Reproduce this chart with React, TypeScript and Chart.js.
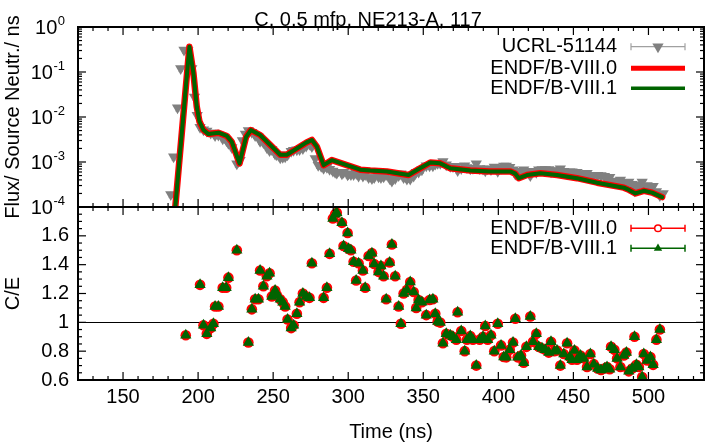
import React, { useEffect, useRef } from "react";
import { Chart, registerables } from "chart.js";

Chart.register(...registerables);

// ---------- texts ----------
const chartTitle = "C, 0.5 mfp, NE213-A, 117";
const xAxisTitle = "Time (ns)";
const topAxisTitle = "Flux/ Source Neutr./ ns";
const bottomAxisTitle = "C/E";
const expName = "UCRL-51144";
const lib80Name = "ENDF/B-VIII.0";
const lib81Name = "ENDF/B-VIII.1";

// ---------- ticks ----------
const timeTickLabels = [150, 200, 250, 300, 350, 400, 450, 500];
const fluxTickExponents = [0, -1, -2, -3, -4];
const ratioTickLabels = [0.6, 0.8, 1, 1.2, 1.4, 1.6];

// ---------- calculated flux (lines) ----------
const calcTime = [
  184.8, 194.2, 196.9, 199.1, 200.9, 203.6, 206.9, 213.6, 219.1, 222.4,
  227.6, 232.0, 235.1, 241.3, 248.0, 254.7, 259.1, 265.8, 272.0, 275.8,
  279.1, 283.6, 289.1, 299.1, 308.0, 314.7, 325.8, 340.2, 345.8, 354.7,
  361.3, 368.0, 381.3, 394.7, 408.0, 411.3, 413.6, 419.1, 428.0, 439.1,
  452.4, 465.8, 483.6, 487.0, 491.3, 496.9, 502.4, 509.1,
];
const calcB80 = [
  1.0e-4, 0.363, 0.0933, 0.0170, 0.00794, 0.00513, 0.00417, 0.00447, 0.00380, 0.00282,
  0.000933, 0.00363, 0.00513, 0.00398, 0.00240, 0.00145, 0.00145, 0.00200, 0.00269, 0.00309,
  0.00219, 0.000851, 0.00110, 0.000851, 0.000676, 0.000646, 0.000617, 0.000513, 0.000661, 0.000977,
  0.000933, 0.000724, 0.000646, 0.000617, 0.000617, 0.000550, 0.000437, 0.000513, 0.000562, 0.000513,
  0.000437, 0.000347, 0.000269, 0.000240, 0.000200, 0.000229, 0.000209, 0.000166,
];
const calcB81 = [
  1.0e-4, 0.363, 0.0933, 0.0170, 0.00794, 0.00513, 0.00417, 0.00447, 0.00380, 0.00282,
  0.000933, 0.00363, 0.00513, 0.00398, 0.00240, 0.00145, 0.00145, 0.00200, 0.00269, 0.00309,
  0.00219, 0.000851, 0.00110, 0.000851, 0.000676, 0.000646, 0.000617, 0.000513, 0.000661, 0.000977,
  0.000933, 0.000724, 0.000646, 0.000617, 0.000617, 0.000550, 0.000437, 0.000513, 0.000562, 0.000513,
  0.000437, 0.000347, 0.000269, 0.000240, 0.000200, 0.000229, 0.000209, 0.000166,
];

// ---------- experimental flux (UCRL-51144) ----------
const expTime = [
  181.8, 183.7, 186.3, 188.4, 190.6, 193.2, 195.8, 197.6, 199.4,
  201.3, 203.6, 205.8, 208.4, 210.2, 211.3, 213.5, 216.4, 218.7, 220.2, 222.5, 225.8,
  228.0, 229.5, 231.5,
  233.5, 235.8, 238.0, 240.2, 241.3, 243.5, 245.8, 247.6, 249.1, 251.3,
  252.4, 254.7, 256.4, 258.0, 259.6, 262.0, 263.6, 265.8, 267.6, 269.8,
  272.0, 274.2, 275.8, 278.0, 280.0, 282.0,
  283.6, 285.8, 287.6, 289.8, 291.3, 292.4, 295.8, 296.9, 299.6, 300.2,
  301.8, 303.6, 305.3, 306.9, 309.8, 311.3, 313.6, 315.8, 317.3, 320.2,
  321.8, 323.6, 325.3, 327.6, 329.1, 331.3, 333.6, 335.1, 336.9, 339.1,
  341.3, 343.6, 345.3, 346.9, 349.1, 352.0, 354.2, 356.4, 358.0, 359.6,
  361.3, 363.1, 365.3, 368.0, 369.8, 372.0, 372.9, 375.3, 377.6, 379.1,
  381.3, 383.1, 385.3, 387.6, 389.8, 391.3, 392.9, 395.1, 397.3, 399.6,
  401.8, 403.6, 405.3, 407.6, 409.8, 411.3, 412.9, 415.1, 416.9, 418.7,
  421.3, 423.1, 425.3, 426.9, 429.1, 431.3, 433.6, 435.1, 437.3, 439.1,
  441.3, 443.6, 445.8, 447.6, 449.1, 450.7, 452.4, 454.7, 456.9, 459.1,
  461.3, 463.6, 466.2, 468.4, 470.7, 472.4, 474.2, 475.1, 477.3, 479.1,
  481.3, 483.6, 485.3, 486.9, 489.1, 490.7, 492.0, 493.6, 495.8, 496.9,
  499.1, 501.3, 503.1, 505.3, 507.6, 509.8,
];
const expFlux = [
  1.9e-4, 1.3e-3, 0.016, 0.12, 0.31, 0.30, 0.12, 0.028, 0.011,
  0.0059, 0.0052, 0.0049, 0.0044, 0.0044, 0.0039, 0.0040, 0.0033, 0.0031, 0.0026, 0.0021, 0.00091,
  0.0011, 0.0030, 0.0042,
  0.0050, 0.0046, 0.0039, 0.0036, 0.0029, 0.0027, 0.0021, 0.0018, 0.0019, 0.0015,
  0.00145, 0.00125, 0.00127, 0.0013, 0.00145, 0.00173, 0.00183, 0.00188, 0.0019, 0.0020,
  0.00228, 0.0025, 0.0022, 0.0012, 0.00085, 0.00080,
  0.00073, 0.00076, 0.00069, 0.00063, 0.00059, 0.00057, 0.00055, 0.00059, 0.00052, 0.00055,
  0.00053, 0.00053, 0.00056, 0.00049, 0.00049, 0.00053, 0.00045, 0.00043, 0.00045, 0.00047,
  0.00045, 0.00047, 0.00053, 0.00043, 0.00038, 0.00043, 0.00050, 0.00055, 0.00045, 0.00042,
  0.00042, 0.00049, 0.00059, 0.00060, 0.00067, 0.00083, 0.00083, 0.00083, 0.00090, 0.00094,
  0.00094, 0.00102, 0.00087, 0.00080, 0.00079, 0.00080, 0.00065, 0.00072, 0.00083, 0.00075,
  0.00071, 0.00073, 0.00091, 0.00072, 0.00070, 0.00064, 0.00071, 0.00068, 0.00077, 0.00062,
  0.00073, 0.00081, 0.00081, 0.00076, 0.00067, 0.00054, 0.00062, 0.00059, 0.00067, 0.00061,
  0.00050, 0.00062, 0.00059, 0.00067, 0.00068, 0.00068, 0.00068, 0.00061, 0.00065, 0.00064,
  0.00071, 0.00062, 0.00055, 0.00061, 0.00061, 0.00055, 0.00059, 0.00055, 0.00054, 0.00056,
  0.00048, 0.00051, 0.00051, 0.00050, 0.00048, 0.00046, 0.00046, 0.00037, 0.00036, 0.00038,
  0.00040, 0.00035, 0.00032, 0.00036, 0.00032, 0.00023, 0.00029, 0.00031, 0.00036, 0.00029,
  0.00030, 0.00028, 0.00029, 0.00022, 0.00018, 0.00020,
];
// relative experimental uncertainty (fraction)
const expRelErr = 0.15;

// ---------- C/E ratios ----------
const ceTime = [
  191.8, 201.3, 203.6, 205.8, 208.4, 210.2, 211.3, 213.5, 216.4, 218.7,
  220.2, 225.8, 233.5, 235.8, 238.0, 240.2, 241.3, 243.5, 245.8, 247.6,
  249.1, 251.3, 252.4, 254.7, 256.4, 258.0, 259.6, 262.0, 263.6, 265.8,
  267.6, 269.8, 272.0, 274.2, 275.8, 283.6, 285.8, 287.6, 289.8, 291.3,
  292.4, 295.8, 296.9, 299.6, 300.2, 301.8, 303.6, 305.3, 306.9, 309.8,
  311.3, 313.6, 315.8, 317.3, 320.2, 321.8, 323.6, 325.3, 327.6, 329.1,
  331.3, 333.6, 335.1, 336.9, 339.1, 341.3, 343.6, 345.3, 346.9, 349.1,
  352.0, 354.2, 356.4, 358.0, 359.6, 361.3, 363.1, 365.3, 368.0, 369.8,
  372.0, 372.9, 375.3, 377.6, 379.1, 381.3, 383.1, 385.3, 387.6, 389.8,
  391.3, 392.9, 395.1, 397.3, 399.6, 401.8, 403.6, 405.3, 407.6, 409.8,
  411.3, 412.9, 415.1, 416.9, 418.7, 421.3, 423.1, 425.3, 426.9, 429.1,
  431.3, 433.6, 435.1, 437.3, 439.1, 441.3, 443.6, 445.8, 447.6, 449.1,
  450.7, 452.4, 454.7, 456.9, 459.1, 461.3, 463.6, 466.2, 468.4, 470.7,
  472.4, 474.2, 475.1, 477.3, 479.1, 481.3, 483.6, 485.3, 486.9, 489.1,
  490.7, 492.0, 493.6, 495.8, 496.9, 499.1, 501.3, 503.1, 505.3, 507.6,
];
const ceB80 = [
  0.91, 1.26, 0.98, 0.92, 0.96, 0.99, 1.11, 1.11, 1.24, 1.24,
  1.31, 1.50, 0.86, 1.09, 1.16, 1.16, 1.36, 1.25, 1.32, 1.34,
  1.18, 1.22, 1.19, 1.16, 1.14, 1.11, 1.02, 0.96, 0.98, 1.06,
  1.14, 1.20, 1.18, 1.17, 1.41, 1.17, 1.24, 1.475, 1.72, 1.75,
  1.76, 1.69, 1.53, 1.62, 1.51, 1.50, 1.42, 1.29, 1.41, 1.36,
  1.24, 1.46, 1.48, 1.405, 1.35, 1.39, 1.32, 1.16, 1.415, 1.54,
  1.32, 1.11, 0.99, 1.20, 1.225, 1.28, 1.21, 1.10, 1.155, 1.14,
  1.05, 1.155, 1.16, 1.06, 1.005, 0.998, 0.855, 0.92, 0.91, 0.90,
  0.88, 1.07, 0.94, 0.80, 0.88, 0.905, 0.88, 0.70, 0.88, 0.90,
  0.975, 0.88, 0.91, 0.80, 0.99, 0.84, 0.76, 0.757, 0.81, 0.86,
  1.025, 0.757, 0.77, 0.72, 0.83, 1.04, 0.865, 0.92, 0.83, 0.82,
  0.81, 0.79, 0.865, 0.80, 0.805, 0.70, 0.78, 0.855, 0.76, 0.74,
  0.805, 0.74, 0.77, 0.75, 0.69, 0.78, 0.71, 0.68, 0.67, 0.68,
  0.69, 0.675, 0.83, 0.81, 0.75, 0.69, 0.77, 0.79, 0.66, 0.68,
  0.90, 0.705, 0.69, 0.62, 0.78, 0.735, 0.76, 0.705, 0.88, 0.95,
];
const ceB81 = [
  0.91, 1.26, 0.98, 0.92, 0.96, 0.99, 1.11, 1.11, 1.24, 1.24,
  1.31, 1.50, 0.86, 1.09, 1.16, 1.16, 1.36, 1.25, 1.32, 1.34,
  1.18, 1.22, 1.19, 1.16, 1.14, 1.11, 1.02, 0.96, 0.98, 1.06,
  1.14, 1.20, 1.18, 1.17, 1.41, 1.17, 1.24, 1.475, 1.72, 1.75,
  1.76, 1.69, 1.53, 1.62, 1.51, 1.50, 1.42, 1.29, 1.41, 1.36,
  1.24, 1.46, 1.48, 1.405, 1.35, 1.39, 1.32, 1.16, 1.415, 1.54,
  1.32, 1.11, 0.99, 1.20, 1.225, 1.28, 1.21, 1.10, 1.155, 1.14,
  1.05, 1.155, 1.16, 1.06, 1.005, 0.998, 0.855, 0.92, 0.91, 0.90,
  0.88, 1.07, 0.94, 0.80, 0.88, 0.905, 0.88, 0.70, 0.88, 0.90,
  0.975, 0.88, 0.91, 0.80, 0.99, 0.84, 0.76, 0.757, 0.81, 0.86,
  1.025, 0.757, 0.77, 0.72, 0.83, 1.04, 0.865, 0.92, 0.83, 0.82,
  0.81, 0.79, 0.865, 0.80, 0.805, 0.70, 0.78, 0.855, 0.76, 0.74,
  0.805, 0.74, 0.77, 0.75, 0.69, 0.78, 0.71, 0.68, 0.67, 0.68,
  0.69, 0.675, 0.83, 0.81, 0.75, 0.69, 0.77, 0.79, 0.66, 0.68,
  0.90, 0.705, 0.69, 0.62, 0.78, 0.735, 0.76, 0.705, 0.88, 0.95,
];

// ---------- style ----------
const RED = "#ff0000";
const GREEN = "#006400";
const GRAY = "#808080";
const LIGHT_GRAY = "#a0a0a0";
const FONT = '"Liberation Sans", Arial, Helvetica, sans-serif';

const pts = (xs: number[], ys: number[]) => xs.map((x, i) => ({ x, y: ys[i] }));

function seg(ctx: CanvasRenderingContext2D, x1: number, y1: number, x2: number, y2: number) {
  ctx.beginPath();
  ctx.moveTo(x1, y1);
  ctx.lineTo(x2, y2);
  ctx.stroke();
}

function tri(ctx: CanvasRenderingContext2D, x: number, y: number, r: number, down: boolean) {
  const s = down ? -1 : 1;
  ctx.beginPath();
  ctx.moveTo(x, y - s * r);
  ctx.lineTo(x + 0.866 * r, y + s * 0.5 * r);
  ctx.lineTo(x - 0.866 * r, y + s * 0.5 * r);
  ctx.closePath();
  ctx.fill();
}

const gnuplotLook = {
  id: "gnuplotLook",
  beforeDatasetsDraw(chart: any) {
    const { ctx } = chart;
    const x = chart.scales.x;
    const yT = chart.scales.yTop;
    const yB = chart.scales.yBot;
    ctx.save();
    ctx.strokeStyle = "#000";
    ctx.lineWidth = 1;
    const y1 = Math.round(yB.getPixelForValue(1)) + 0.5;
    seg(ctx, x.left, y1, x.right, y1);

    // experimental error bars
    ctx.beginPath();
    ctx.rect(x.left, yT.top, x.right - x.left, yT.bottom - yT.top);
    ctx.clip();
    ctx.strokeStyle = GRAY;
    ctx.lineWidth = 1;
    for (let i = 0; i < expTime.length; i++) {
      const px = x.getPixelForValue(expTime[i]);
      const lo = yT.getPixelForValue(expFlux[i] * (1 - expRelErr));
      const hi = yT.getPixelForValue(expFlux[i] * (1 + expRelErr));
      seg(ctx, px, lo, px, hi);
      seg(ctx, px - 2, lo, px + 2, lo);
    }
    ctx.restore();
  },
  afterDatasetsDraw(chart: any) {
    const { ctx, chartArea } = chart;
    const x = chart.scales.x;
    const yT = chart.scales.yTop;
    const yB = chart.scales.yBot;
    const L = chartArea.left;
    const R = chartArea.right;
    const MAJ = 8;
    const MIN = 4;
    ctx.save();
    ctx.strokeStyle = "#000";
    ctx.lineWidth = 1.2;

    // x ticks on every horizontal border, pointing inward
    const edges: [number, number][] = [
      [yT.top, 1],
      [yT.bottom, -1],
      [yB.top, 1],
      [yB.bottom, -1],
    ];
    for (let t = 130; t <= 530; t += 10) {
      const px = x.getPixelForValue(t);
      const len = t % 50 === 0 ? MAJ : MIN;
      for (const [ey, d] of edges) seg(ctx, px, ey, px, ey + d * len);
    }
    // log ticks of the flux panel
    for (let e = -4; e <= 0; e++) {
      for (let m = 1; m <= 9; m++) {
        if (e === 0 && m > 1) break;
        const py = yT.getPixelForValue(m * Math.pow(10, e));
        const len = m === 1 ? MAJ : MIN;
        seg(ctx, L, py, L + len, py);
        seg(ctx, R, py, R - len, py);
      }
    }
    // linear ticks of the ratio panel
    for (let i = 0; i <= 24; i++) {
      const py = yB.getPixelForValue(0.6 + i * 0.05);
      const len = i % 4 === 0 ? MAJ : MIN;
      seg(ctx, L, py, L + len, py);
      seg(ctx, R, py, R - len, py);
    }

    // frames
    ctx.lineWidth = 2;
    ctx.strokeRect(L, yT.top, R - L, yT.bottom - yT.top);
    ctx.strokeRect(L, yB.top, R - L, yB.bottom - yB.top);

    // tick labels
    ctx.fillStyle = "#000";
    ctx.font = `20px ${FONT}`;
    ctx.textAlign = "center";
    ctx.textBaseline = "middle";
    for (const t of timeTickLabels) ctx.fillText(String(t), x.getPixelForValue(t), yB.bottom + 17.5);
    ctx.textAlign = "right";
    for (const v of ratioTickLabels) ctx.fillText(String(v), L - 9, yB.getPixelForValue(v));
    ctx.textBaseline = "alphabetic";
    for (const e of fluxTickExponents) {
      const py = yT.getPixelForValue(Math.pow(10, e));
      const xr = L - 13;
      const es = String(e);
      ctx.font = `13px ${FONT}`;
      const ew = ctx.measureText(es).width;
      ctx.fillText(es, xr, py - 2);
      ctx.font = `20px ${FONT}`;
      ctx.fillText("10", xr - ew - 0.5, py + 7);
    }

    // title
    ctx.textAlign = "center";
    ctx.fillText(chartTitle, 368, yT.top - 1);

    // axis titles
    ctx.textBaseline = "middle";
    ctx.fillText(xAxisTitle, (L + R) / 2, yB.bottom + 52);
    ctx.save();
    ctx.translate(13.5, (yT.top + yT.bottom) / 2);
    ctx.rotate(-Math.PI / 2);
    ctx.fillText(topAxisTitle, 0, 0);
    ctx.restore();
    ctx.save();
    ctx.translate(13.5, (yB.top + yB.bottom) / 2);
    ctx.rotate(-Math.PI / 2);
    ctx.fillText(bottomAxisTitle, 0, 0);
    ctx.restore();

    // legends
    const tx = R - 87;
    const sx1 = R - 73;
    const sx2 = R - 19;
    const sxm = (sx1 + sx2) / 2;
    ctx.textAlign = "right";
    ctx.textBaseline = "middle";
    ctx.font = `20px ${FONT}`;

    // top legend
    let ry = yT.top + 19.7;
    ctx.fillText(expName, tx, ry);
    ctx.strokeStyle = LIGHT_GRAY;
    ctx.lineWidth = 1.2;
    seg(ctx, sx1, ry, sx2, ry);
    seg(ctx, sx1, ry - 3.5, sx1, ry + 3.5);
    seg(ctx, sx2, ry - 3.5, sx2, ry + 3.5);
    ctx.fillStyle = GRAY;
    tri(ctx, sxm, ry, 6.5, true);
    ctx.fillStyle = "#000";

    ry = yT.top + 41.3;
    ctx.fillText(lib80Name, tx, ry);
    ctx.strokeStyle = RED;
    ctx.lineWidth = 5;
    seg(ctx, sx1, ry, sx2, ry);

    ry = yT.top + 61.3;
    ctx.fillText(lib81Name, tx, ry);
    ctx.strokeStyle = GREEN;
    ctx.lineWidth = 3.5;
    seg(ctx, sx1, ry, sx2, ry);

    // bottom legend
    ry = yB.top + 21.3;
    ctx.fillText(lib80Name, tx, ry);
    ctx.strokeStyle = RED;
    ctx.lineWidth = 1.5;
    seg(ctx, sx1, ry, sx2, ry);
    seg(ctx, sx1, ry - 3.5, sx1, ry + 3.5);
    seg(ctx, sx2, ry - 3.5, sx2, ry + 3.5);
    ctx.fillStyle = "#fff";
    ctx.beginPath();
    ctx.arc(sxm, ry, 3.3, 0, Math.PI * 2);
    ctx.fill();
    ctx.stroke();
    ctx.fillStyle = "#000";

    ry = yB.top + 41.3;
    ctx.fillText(lib81Name, tx, ry);
    ctx.strokeStyle = GREEN;
    ctx.lineWidth = 1.5;
    seg(ctx, sx1, ry, sx2, ry);
    seg(ctx, sx1, ry - 3.5, sx1, ry + 3.5);
    seg(ctx, sx2, ry - 3.5, sx2, ry + 3.5);
    ctx.fillStyle = GREEN;
    tri(ctx, sxm, ry, 4.8, false);

    ctx.restore();
  },
};

export default function App() {
  const ref = useRef<HTMLCanvasElement>(null);

  useEffect(() => {
    const canvas = ref.current;
    if (!canvas) return;
    const hidden = { display: false };
    const chart = new Chart(canvas, {
      type: "scatter",
      data: {
        datasets: [
          {
            label: expName,
            data: pts(expTime, expFlux),
            yAxisID: "yTop",
            showLine: false,
            pointStyle: "triangle",
            rotation: 180,
            pointRadius: 6.5,
            pointBackgroundColor: GRAY,
            pointBorderWidth: 0,
            borderColor: GRAY,
            order: 5,
          },
          {
            label: lib80Name,
            data: pts(calcTime, calcB80),
            yAxisID: "yTop",
            showLine: true,
            borderColor: RED,
            borderWidth: 6.5,
            borderJoinStyle: "round",
            borderCapStyle: "round",
            pointRadius: 0,
            order: 4,
          },
          {
            label: lib81Name,
            data: pts(calcTime, calcB81),
            yAxisID: "yTop",
            showLine: true,
            borderColor: GREEN,
            borderWidth: 4,
            borderJoinStyle: "round",
            borderCapStyle: "round",
            pointRadius: 0,
            order: 3,
          },
          {
            label: lib80Name + " C/E",
            data: pts(ceTime, ceB80),
            yAxisID: "yBot",
            showLine: false,
            pointStyle: "circle",
            pointRadius: 5.3,
            pointBackgroundColor: RED,
            pointBorderWidth: 0,
            borderColor: RED,
            order: 2,
          },
          {
            label: lib81Name + " C/E",
            data: pts(ceTime, ceB81),
            yAxisID: "yBot",
            showLine: false,
            pointStyle: "triangle",
            pointRadius: 6.5,
            pointBackgroundColor: GREEN,
            pointBorderWidth: 0,
            borderColor: GREEN,
            order: 1,
          },
        ],
      },
      options: {
        responsive: false,
        animation: false,
        devicePixelRatio: 1,
        layout: { padding: { top: 27, right: 8, left: 0, bottom: 0 } },
        plugins: {
          legend: { display: false },
          tooltip: { enabled: false },
          title: { display: false },
        },
        scales: {
          x: {
            type: "linear",
            min: 120,
            max: 537,
            ticks: hidden,
            grid: hidden,
            border: hidden,
            afterFit: (s: any) => {
              s.height = 63;
            },
          },
          yTop: {
            axis: "y",
            type: "logarithmic",
            position: "left",
            min: 1e-4,
            max: 1,
            stack: "panels",
            stackWeight: 180,
            weight: 2,
            ticks: hidden,
            grid: hidden,
            border: hidden,
            afterFit: (s: any) => {
              s.width = 78;
            },
          },
          yBot: {
            axis: "y",
            type: "linear",
            position: "left",
            min: 0.6,
            max: 1.8,
            stack: "panels",
            stackWeight: 173,
            weight: 1,
            ticks: hidden,
            grid: hidden,
            border: hidden,
            afterFit: (s: any) => {
              s.width = 78;
            },
          },
        },
      } as any,
      plugins: [gnuplotLook],
    });
    return () => chart.destroy();
  }, []);

  return (
    <div style={{ position: "fixed", left: 0, top: 0, width: 712, height: 443, background: "#fff" }}>
      <canvas ref={ref} width={712} height={443} style={{ display: "block", width: 712, height: 443 }} />
    </div>
  );
}
